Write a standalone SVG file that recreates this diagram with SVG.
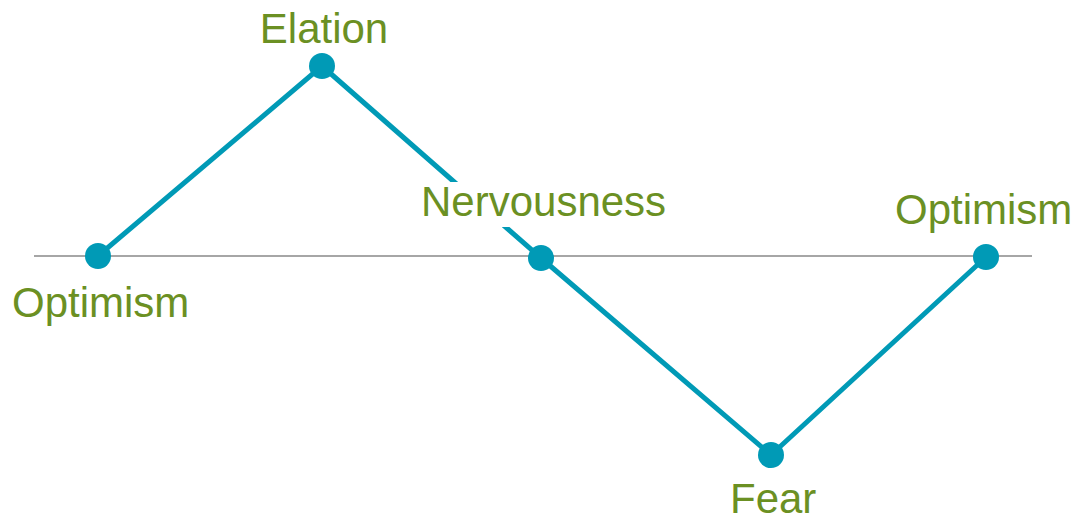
<svg xmlns="http://www.w3.org/2000/svg" width="1080" height="518" viewBox="0 0 1080 518">
<style>
.lbl{font-family:"Liberation Sans",Arial,sans-serif;font-size:42px;fill:#6B9023}
.dot{fill:#009AB6}
</style>
<rect width="1080" height="518" fill="#ffffff"/>
<g id="connectors">
<line x1="34" y1="256" x2="1032" y2="256" stroke="#A6A6A6" stroke-width="2"/>
<polyline points="98,256 322,66 541,258 771,455 986,257" fill="none" stroke="#009AB6" stroke-width="5" stroke-linejoin="round"/>
</g>
<g id="n1"><circle class="dot" cx="98" cy="256" r="13"/><text class="lbl" x="12" y="317">Optimism</text></g>
<g id="n2"><circle class="dot" cx="322" cy="66" r="13"/><text class="lbl" x="324" y="43" text-anchor="middle">Elation</text></g>
<g id="n3"><rect x="416" y="182" width="258" height="45" fill="#ffffff"/><circle class="dot" cx="541" cy="258" r="13"/><text class="lbl" x="421" y="216">Nervousness</text></g>
<g id="n4"><circle class="dot" cx="771" cy="455" r="13"/><text class="lbl" x="730" y="513">Fear</text></g>
<g id="n5"><circle class="dot" cx="986" cy="257" r="13"/><text class="lbl" x="895" y="224">Optimism</text></g>
</svg>
